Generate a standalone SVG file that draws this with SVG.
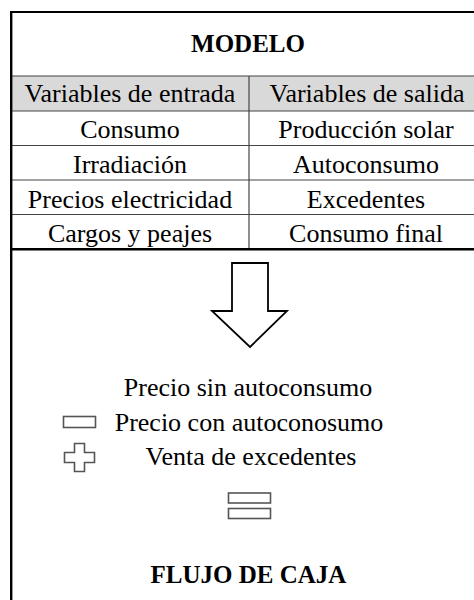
<svg xmlns="http://www.w3.org/2000/svg" width="474" height="600" viewBox="0 0 474 600">
<style>
  text { font-family: "Liberation Serif", "Times New Roman", Times, serif; font-size: 26px; fill: #000; text-anchor: middle; }
  .b { font-weight: bold; font-size: 25px; }
  .row { stroke: #444; stroke-width: 1.2; fill: none; }
  .icon { stroke: #555; stroke-width: 1.6; fill: #fff; }
</style>
<rect width="474" height="600" fill="#fff"/>
<g id="table">
  <rect x="11" y="76" width="480" height="35" fill="#d9d9d9"/>
  <line class="row" x1="11" y1="76" x2="490" y2="76"/>
  <line class="row" x1="11" y1="111" x2="490" y2="111"/>
  <line class="row" x1="11" y1="145.5" x2="490" y2="145.5"/>
  <line class="row" x1="11" y1="180" x2="490" y2="180"/>
  <line class="row" x1="11" y1="214.5" x2="490" y2="214.5"/>
  <line class="row" x1="249" y1="76" x2="249" y2="249"/>
  <line x1="11" y1="249.3" x2="490" y2="249.3" stroke="#000" stroke-width="2.4"/>
  <line x1="10" y1="12" x2="490" y2="12" stroke="#000" stroke-width="2.2"/>
  <line x1="11.2" y1="11" x2="11.2" y2="600" stroke="#000" stroke-width="2.4"/>
  <text class="b" x="248" y="52" font-family="Liberation Serif">MODELO</text>
  <text x="130" y="102" font-family="Liberation Serif">Variables de entrada</text>
  <text x="367" y="102" font-family="Liberation Serif">Variables de salida</text>
  <text x="130" y="138" font-family="Liberation Serif">Consumo</text>
  <text x="366" y="138" font-family="Liberation Serif">Producción solar</text>
  <text x="130" y="173" font-family="Liberation Serif">Irradiación</text>
  <text x="366" y="173" font-family="Liberation Serif">Autoconsumo</text>
  <text x="130" y="207.5" font-family="Liberation Serif">Precios electricidad</text>
  <text x="366" y="207.5" font-family="Liberation Serif">Excedentes</text>
  <text x="130" y="242" font-family="Liberation Serif">Cargos y peajes</text>
  <text x="366" y="242" font-family="Liberation Serif">Consumo final</text>
</g>
<g id="arrow">
  <path d="M232,263 L268,263 L268,311 L287,311 L250,347 L212,311 L232,311 Z" fill="#fff" stroke="#000" stroke-width="1.8" stroke-linejoin="miter"/>
</g>
<g id="cashflow">
  <text x="248" y="396" font-family="Liberation Serif">Precio sin autoconsumo</text>
  <rect class="icon" x="63.5" y="416.5" width="32" height="11"/>
  <text x="249" y="431" font-family="Liberation Serif">Precio con autoconosumo</text>
  <path class="icon" d="M74.5,443.5 L84.5,443.5 L84.5,452.5 L94.5,452.5 L94.5,462.5 L84.5,462.5 L84.5,471.5 L74.5,471.5 L74.5,462.5 L64.5,462.5 L64.5,452.5 L74.5,452.5 Z"/>
  <text x="251" y="465" font-family="Liberation Serif">Venta de excedentes</text>
  <rect class="icon" x="228.5" y="493" width="42" height="10" stroke="#333"/>
  <rect class="icon" x="228.5" y="508.5" width="42" height="10" stroke="#333"/>
  <text class="b" x="248.5" y="583" font-family="Liberation Serif">FLUJO DE CAJA</text>
</g>
</svg>
